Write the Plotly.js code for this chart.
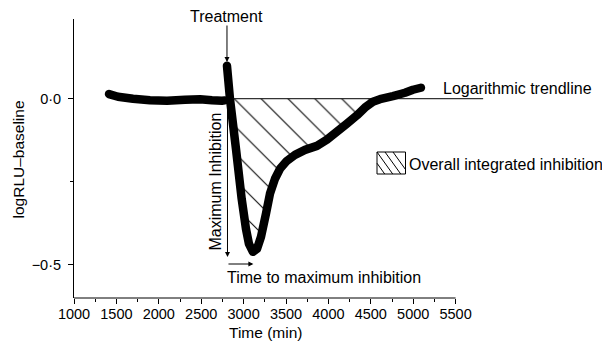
<!DOCTYPE html>
<html>
<head>
<meta charset="utf-8">
<script src="https://cdn.plot.ly/plotly-3.0.1.min.js"></script>
<style>
  html, body { margin: 0; padding: 0; background: #fff; }
  #chart { width: 602px; height: 347px; }
  /* rounded ends on the thick luminescence trace */
  #chart .scatterlayer path.js-line { stroke-linecap: round; stroke-linejoin: round; }
</style>
</head>
<body>
<div id="chart"></div>
<script>
// Bioluminescence trace: time after start (min) and log RLU relative to baseline.
// The null marks the break in recording while treatment was added.
const timeMin = [1413, 1519, 1696, 1896, 2097, 2309, 2486, 2627, 2745, 2778, null,
                 2804, 2839, 2910, 2977, 3028, 3063, 3110, 3158, 3205, 3264,
                 3311, 3370, 3429, 3511, 3606, 3724, 3865, 3983, 4101, 4219,
                 4337, 4443, 4525, 4608, 4761, 4903, 4997, 5091];
const logRLU = [0.014, 0.006, 0.0, -0.0045, -0.006, -0.003, -0.0015, -0.0045, -0.006, -0.005, null,
                0.099, 0.0, -0.151, -0.301, -0.392, -0.437, -0.461, -0.452, -0.416, -0.346,
                -0.286, -0.241, -0.211, -0.187, -0.169, -0.154, -0.142, -0.123, -0.099, -0.075,
                -0.05, -0.024, -0.009, -0.0015, 0.008, 0.018, 0.027, 0.033];

// Logarithmic trendline (baseline level) and its extent
const trendX = [2810, 5820];
const trendY = [0, 0];

// Axis ticks
const xTickVals = [1000, 1500, 2000, 2500, 3000, 3500, 4000, 4500, 5000, 5500];
const xMinorVals = [1250, 1750, 2250, 2750, 3250, 3750, 4250, 4750, 5250];
const yTickVals = [-0.5, 0];
const yTickText = ['\u22120\u00b75', '0\u00b70'];
const yMinorVals = [-0.25];

// Integrated inhibition window: between the two baseline crossings
const inhibStart = 2839, inhibEnd = 4608;
const hatchX = [], hatchY = [];
timeMin.forEach((t, i) => {
  if (t !== null && t >= inhibStart && t <= inhibEnd) { hatchX.push(t); hatchY.push(logRLU[i]); }
});

// Treatment spike and point of maximum inhibition
const vals = logRLU.filter(v => v !== null);
const iPeak = logRLU.indexOf(Math.max(...vals));
const iMin = logRLU.indexOf(Math.min(...vals));
const treatX = timeMin[iPeak];
const minX = timeMin[iMin];

const FONT = 'Liberation Sans, Arial, Helvetica, sans-serif';
const M = { l: 74, r: 104, t: 19, b: 49 };
const W = 602, H = 347;
const PW = W - M.l - M.r, PH = H - M.t - M.b;
const px = v => (v - M.l) / PW;          // page x -> paper
const py = v => (H - M.b - v) / PH;      // page y -> paper
const Y0 = -0.6, Y1 = 0.24;
const yAt = v => Y1 - (v - M.t) / PH * (Y1 - Y0);   // page y -> data y

const traces = [
  {
    x: hatchX, y: hatchY, type: 'scatter', mode: 'none',
    fill: 'tozeroy', fillcolor: 'rgba(255,255,255,0)',
    fillpattern: { shape: '\\', size: 19, solidity: 0.055, fgcolor: '#000', bgcolor: 'rgba(255,255,255,0)' },
    hoverinfo: 'skip', showlegend: false
  },
  {
    x: trendX, y: trendY, type: 'scatter', mode: 'lines',
    line: { color: '#000', width: 1 }, showlegend: false
  },
  {
    x: timeMin, y: logRLU, type: 'scatter', mode: 'lines', connectgaps: false,
    line: { color: '#000', width: 8.5, simplify: false },
    showlegend: false
  }
];

const txt = (s, x, y, opts) => Object.assign({
  text: s, xref: 'paper', yref: 'paper', x: px(x), y: py(y),
  showarrow: false, font: { family: FONT, size: 16, color: '#000' },
  xanchor: 'left', yanchor: 'middle'
}, opts || {});

const arrow = (x, y, ax, ay) => ({
  text: '', x: x, y: y, ax: ax, ay: ay, xref: 'x', yref: 'y', axref: 'x', ayref: 'y',
  showarrow: true, arrowhead: 2, arrowsize: 1, arrowwidth: 1, arrowcolor: '#000', standoff: 0
});

const annotations = [
  txt('Treatment', 226, 17, { xanchor: 'center' }),
  arrow(treatX, yAt(62), treatX, yAt(24)),
  arrow(2810, yAt(257), 2810, 0),
  txt('Maximum Inhibition', 214.5, 182, { xanchor: 'center', textangle: -90 }),
  arrow(minX + 5, yAt(264), treatX, yAt(264)),
  txt('Time to maximum inhibition', 225, 277),
  txt('Logarithmic trendline', 441, 88),
  txt('Overall integrated inhibition', 407, 164),
  txt('Time (min)', 265, 332, { xanchor: 'center', font: { family: FONT, size: 15.5, color: '#000' } }),
  txt('logRLU\u2013baseline', 17.5, 159, { xanchor: 'center', textangle: -90, font: { family: FONT, size: 15.5, color: '#000' } })
];

// Legend swatch for the hatched area
const lx0 = 377, lx1 = 405.5, ly0 = 152, ly1 = 174, slope = 1.4;
const legendLines = [
  [lx0, ly0, lx0 + (ly1 - ly0) / slope, ly1],
  [lx0 + 8, ly0, lx0 + 8 + (ly1 - ly0) / slope, ly1],
  [lx0 + 16, ly0, lx1, ly0 + (lx1 - lx0 - 16) * slope],
  [lx0, ly0 + 8 * slope, lx0 + (ly1 - ly0 - 8 * slope) / slope, ly1]
];
const shapes = [
  // x axis line spanning the labelled range only
  { type: 'line', xref: 'x', yref: 'paper', x0: 1000, x1: 5500, y0: 0, y1: 0,
    line: { color: '#000', width: 1 } },
  { type: 'rect', xref: 'paper', yref: 'paper', x0: px(lx0), x1: px(lx1), y0: py(ly1), y1: py(ly0),
    line: { color: '#000', width: 1 }, fillcolor: 'rgba(0,0,0,0)' }
].concat(legendLines.map(l => ({
  type: 'line', xref: 'paper', yref: 'paper',
  x0: px(l[0]), y0: py(l[1]), x1: px(l[2]), y1: py(l[3]),
  line: { color: '#000', width: 1 }
})));

const layout = {
  width: W, height: H, margin: M,
  paper_bgcolor: '#fff', plot_bgcolor: '#fff',
  font: { family: FONT, size: 14.5, color: '#000' },
  showlegend: false,
  xaxis: {
    range: [1000, 6000], showline: false, zeroline: false, showgrid: false,
    tickmode: 'array', tickvals: xTickVals, ticktext: xTickVals.map(String),
    ticks: 'outside', ticklen: 5, tickwidth: 1, tickcolor: '#000',
    minor: { tickmode: 'array', tickvals: xMinorVals, ticks: 'outside', ticklen: 3, tickwidth: 1, tickcolor: '#000', showgrid: false },
    tickfont: { family: FONT, size: 14.5, color: '#000' },
    ticklabelstandoff: -2
  },
  yaxis: {
    range: [Y0, Y1], showline: true, linecolor: '#000', linewidth: 1,
    zeroline: false, showgrid: false,
    tickmode: 'array', tickvals: yTickVals, ticktext: yTickText,
    ticks: 'outside', ticklen: 5, tickwidth: 1, tickcolor: '#000',
    minor: { tickmode: 'array', tickvals: yMinorVals, ticks: 'outside', ticklen: 3, tickwidth: 1, tickcolor: '#000', showgrid: false },
    tickfont: { family: FONT, size: 14.5, color: '#000' },
    ticklabelstandoff: 4
  },
  annotations: annotations,
  shapes: shapes
};

Plotly.newPlot('chart', traces, layout, { displayModeBar: false, staticPlot: true });
</script>
</body>
</html>
